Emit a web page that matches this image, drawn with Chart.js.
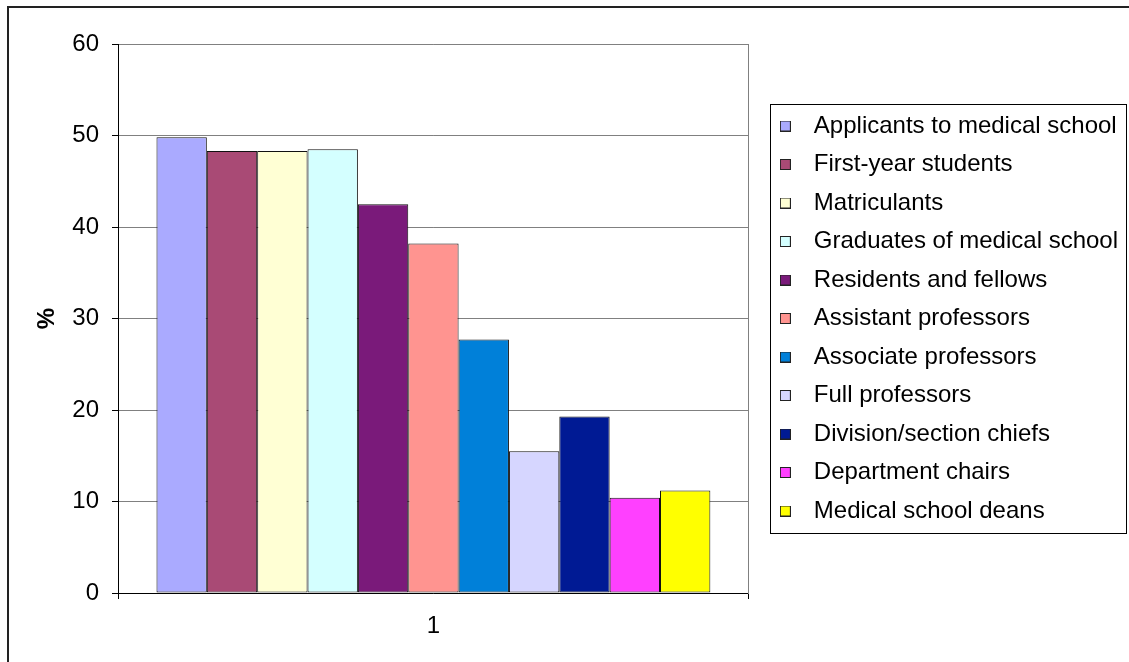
<!DOCTYPE html>
<html>
<head>
<meta charset="utf-8">
<script src="https://cdn.jsdelivr.net/npm/chart.js@4.4.0/dist/chart.umd.min.js"></script>
<style>
  html, body { margin: 0; padding: 0; background: #fff; overflow: hidden; }
  #wrap { position: relative; width: 1129px; height: 662px; }
  #frame { position: absolute; left: 7px; top: 6px; width: 1300px; height: 900px; border: 2px solid #222; }
  canvas { position: absolute; left: 0; top: 0; }
</style>
</head>
<body>
<div id="wrap">
  <div id="frame"></div>
  <canvas id="chart" width="1129" height="662"></canvas>
</div>
<script>
'use strict';

const categories = ['1'];
const seriesNames = [
  'Applicants to medical school',
  'First-year students',
  'Matriculants',
  'Graduates of medical school',
  'Residents and fellows',
  'Assistant professors',
  'Associate professors',
  'Full professors',
  'Division/section chiefs',
  'Department chairs',
  'Medical school deans'
];
const seriesValues = [49.8, 48.3, 48.3, 48.5, 42.5, 38.2, 27.7, 15.5, 19.3, 10.4, 11.2];
const seriesColors = [
  '#aaaaff', '#a94a75', '#ffffd4', '#d4ffff', '#7a1a7a', '#ff9490',
  '#0080d9', '#d6d6ff', '#001a94', '#ff40ff', '#ffff00'
];
const yTicks = [0, 10, 20, 30, 40, 50, 60];

const FONT = '"Liberation Sans", Arial, sans-serif';

// little outlined squares used as legend markers
function markerFor(color) {
  const c = document.createElement('canvas');
  c.width = 11; c.height = 11;
  const g = c.getContext('2d');
  g.fillStyle = color;
  g.fillRect(0, 0, 11, 11);
  g.strokeStyle = '#222';
  g.lineWidth = 1;
  g.strokeRect(0.5, 0.5, 10, 10);
  return c;
}

// box around the legend items
const legendFrame = {
  id: 'legendFrame',
  afterDraw(chart) {
    const boxes = chart.legend.legendHitBoxes;
    if (!boxes || !boxes.length) return;
    const first = boxes[0], last = boxes[boxes.length - 1];
    const ctx = chart.ctx;
    const left = Math.round(first.left + 1) + 0.5;
    const top = Math.round(first.top - 10) + 0.5;
    const right = 1126.5;
    const bottom = Math.round(last.top + last.height + 10) + 0.5;
    ctx.save();
    ctx.strokeStyle = '#000';
    ctx.lineWidth = 1;
    ctx.strokeRect(left, top, right - left, bottom - top);
    ctx.restore();
  }
};

const datasets = seriesNames.map((name, i) => ({
  label: name,
  data: [seriesValues[i]],
  backgroundColor: seriesColors[i],
  borderColor: '#111',
  borderWidth: 1,
  borderSkipped: false,
  pointStyle: markerFor(seriesColors[i])
}));

new Chart(document.getElementById('chart'), {
  type: 'bar',
  data: { labels: categories, datasets: datasets },
  plugins: [legendFrame],
  options: {
    responsive: false,
    animation: false,
    categoryPercentage: 0.878,
    barPercentage: 1,
    layout: { padding: { left: 0, top: 44, right: 1, bottom: 0 } },
    plugins: {
      tooltip: { enabled: false },
      legend: {
        position: 'right',
        fullSize: false,
        maxWidth: 400,
        labels: {
          usePointStyle: true,
          pointStyleWidth: 33,
          padding: 14.5,
          color: '#000',
          font: { family: FONT, size: 24 }
        }
      }
    },
    scales: {
      x: {
        grid: { drawOnChartArea: false, tickLength: 6, tickColor: '#000', offset: true },
        border: { color: '#000', width: 1 },
        ticks: { color: '#000', padding: 13, font: { family: FONT, size: 24 } },
        afterFit: (scale) => { scale.height = 69; }
      },
      y: {
        min: 0,
        max: 60,
        afterBuildTicks: (scale) => { scale.ticks = yTicks.map(v => ({ value: v })); },
        grid: { color: '#808080', lineWidth: 1, tickLength: 6, tickColor: '#000' },
        border: { color: '#000', width: 1 },
        ticks: { color: '#000', padding: 13, font: { family: FONT, size: 24 } },
        title: {
          display: true,
          text: '%',
          color: '#000',
          padding: { top: 33, bottom: 0 },
          font: { family: FONT, size: 24, weight: 'bold' }
        },
        afterFit: (scale) => { scale.width = 118; }
      },
      // right edge of the plot area
      yEdge: {
        position: 'right',
        grid: { display: false },
        ticks: { display: false },
        border: { color: '#808080', width: 1 },
        afterFit: (scale) => { scale.width = 5.5; }
      }
    }
  }
});
</script>
</body>
</html>
